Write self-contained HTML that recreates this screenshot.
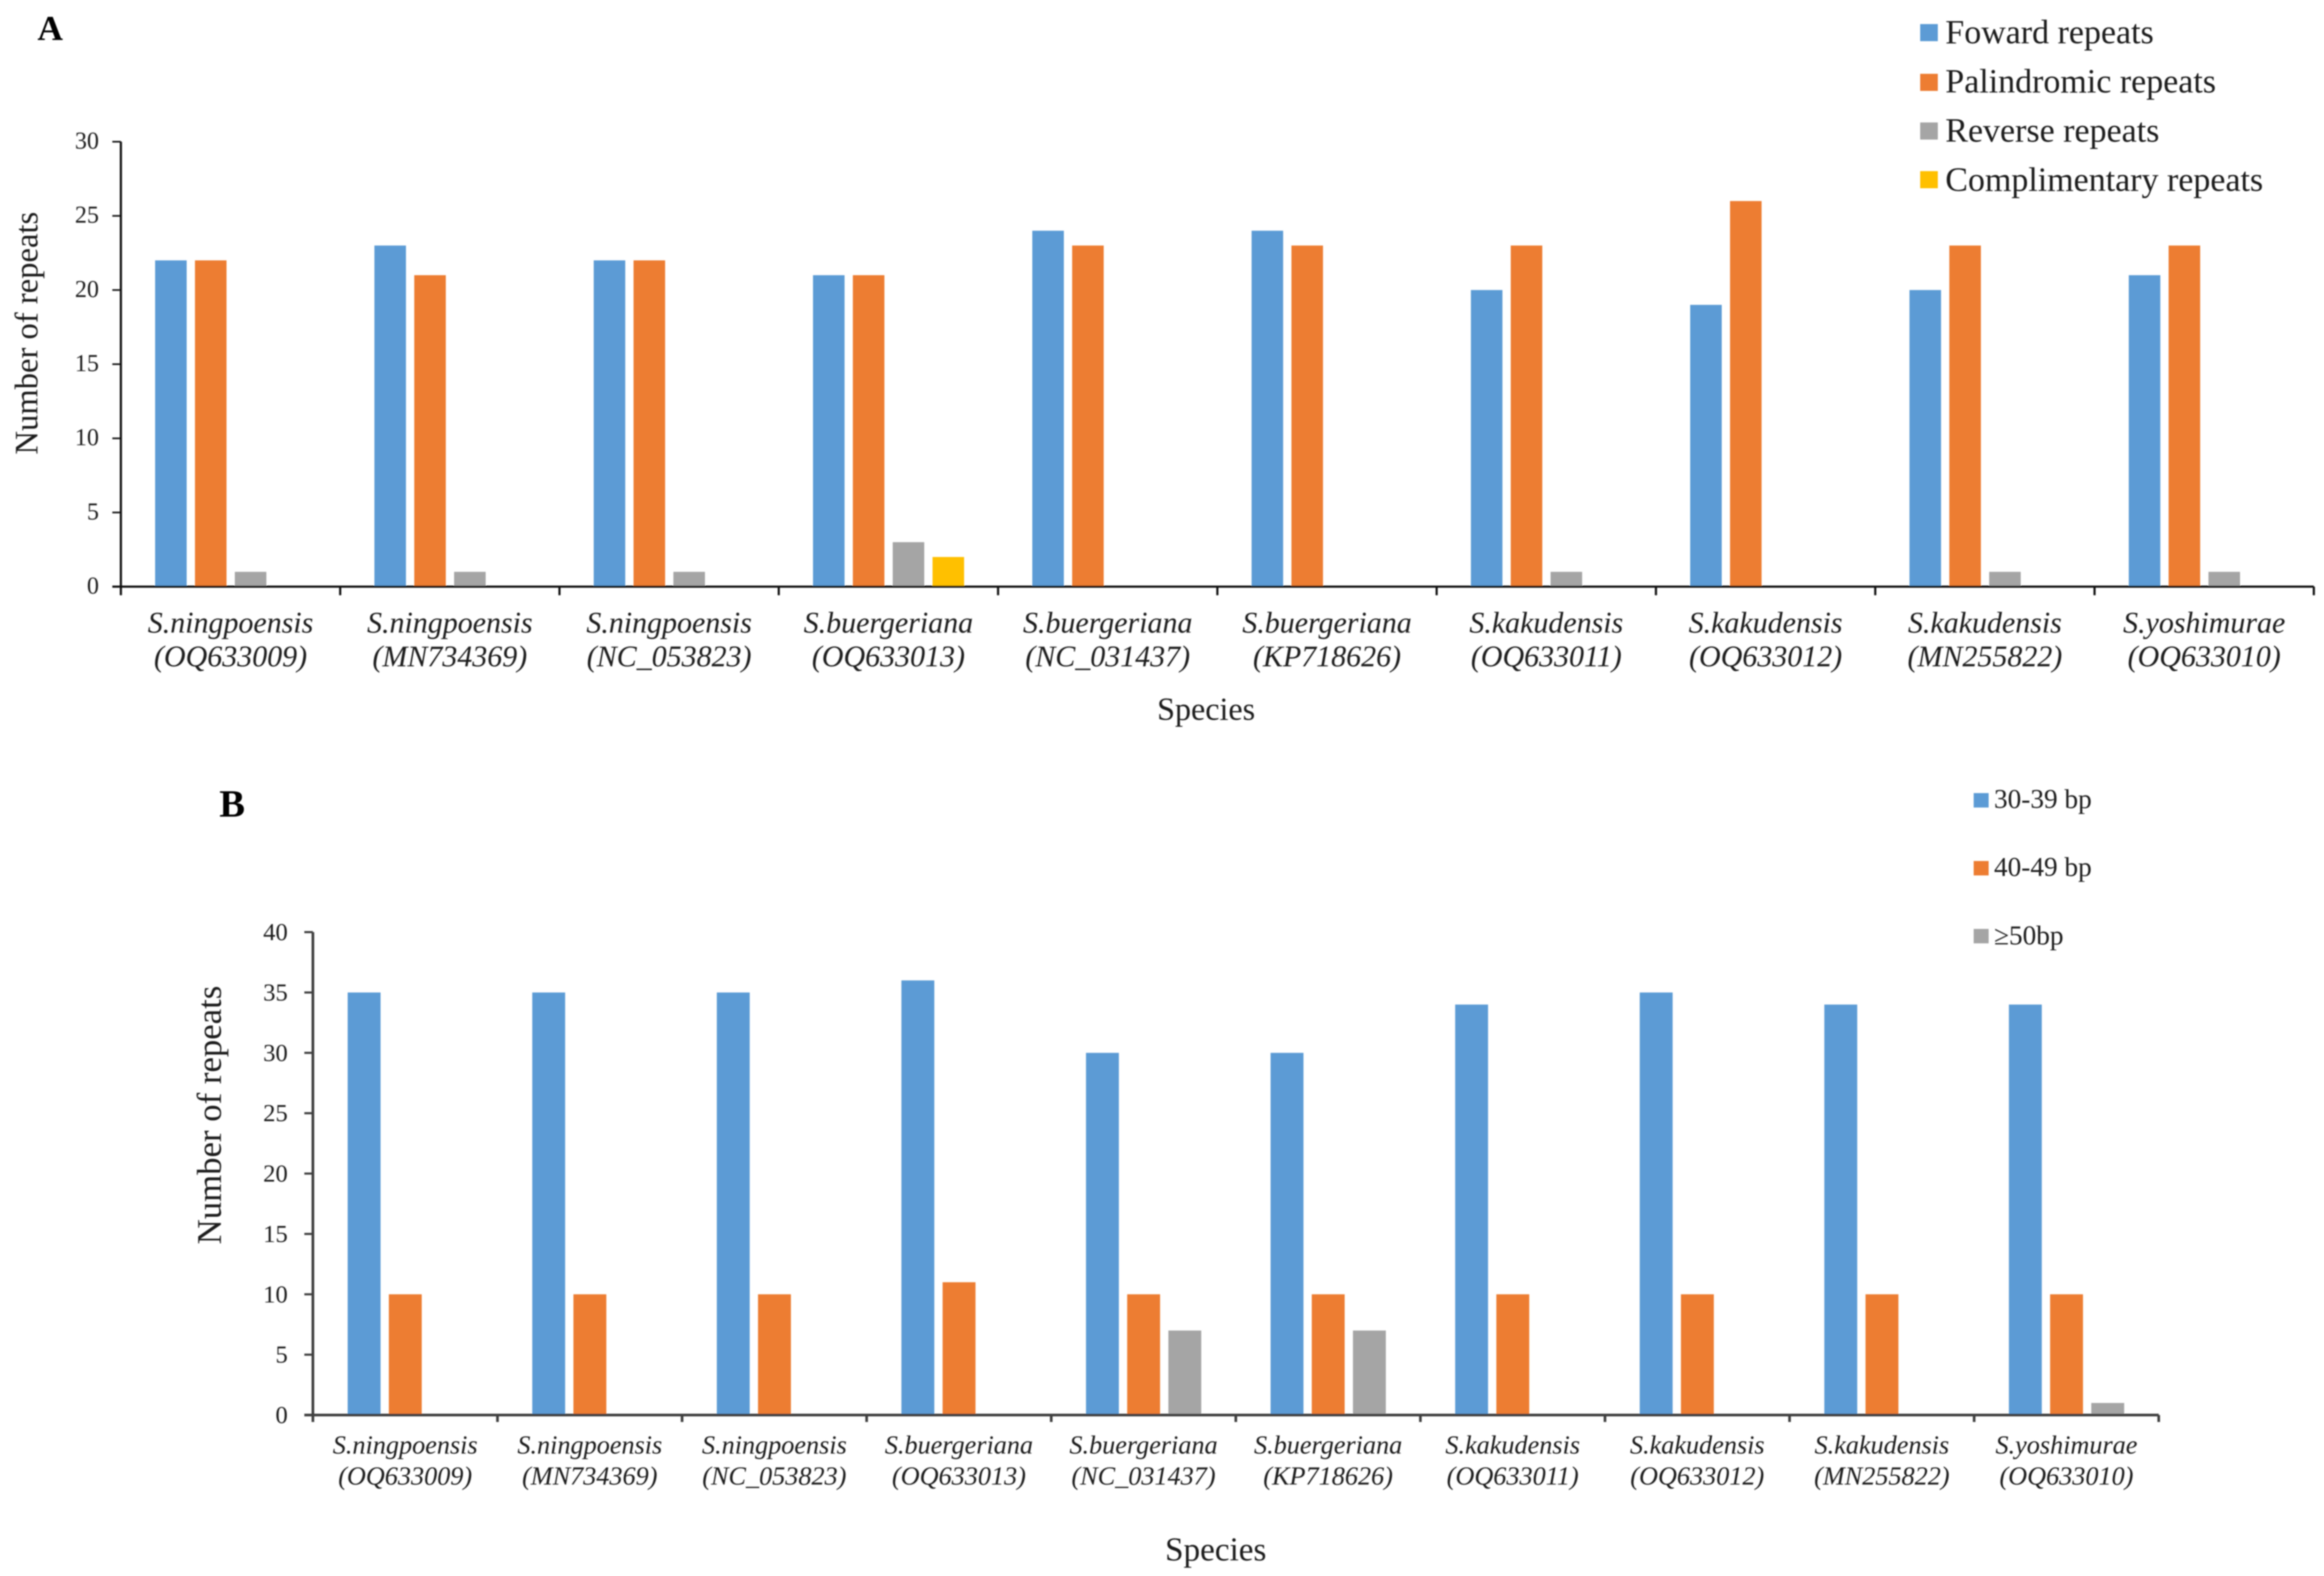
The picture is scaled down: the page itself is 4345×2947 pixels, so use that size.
<!DOCTYPE html>
<html lang="en">
<head>
<meta charset="utf-8">
<title>Repeat counts by species</title>
<style>
html,body{margin:0;padding:0;background:#fff;}
svg{display:block;}
text{font-family:"Liberation Serif",serif;fill:#1c1c1c;}
</style>
</head>
<body>
<svg id="figure" xmlns="http://www.w3.org/2000/svg" width="4345" height="2947" viewBox="0 0 4345 2947">
<defs><filter id="soft" x="-2%" y="-2%" width="104%" height="104%"><feGaussianBlur stdDeviation="1.2"/></filter></defs>
<rect width="4345" height="2947" fill="#fff"/>
<g id="root" filter="url(#soft)"></g>
</svg>
<script>
const speciesNames = ["S.ningpoensis","S.ningpoensis","S.ningpoensis","S.buergeriana","S.buergeriana","S.buergeriana","S.kakudensis","S.kakudensis","S.kakudensis","S.yoshimurae"];
const accessions = ["(OQ633009)","(MN734369)","(NC_053823)","(OQ633013)","(NC_031437)","(KP718626)","(OQ633011)","(OQ633012)","(MN255822)","(OQ633010)"];

const forwardRepeats = [22,23,22,21,24,24,20,19,20,21];
const palindromicRepeats = [22,21,22,21,23,23,23,26,23,23];
const reverseRepeats = [1,1,1,3,0,0,1,0,1,1];
const complimentaryRepeats = [0,0,0,2,0,0,0,0,0,0];
const ticksA = [0,5,10,15,20,25,30];

const len30to39 = [35,35,35,36,30,30,34,35,34,34];
const len40to49 = [10,10,10,11,10,10,10,10,10,10];
const len50plus = [0,0,0,0,7,7,0,0,0,1];
const ticksB = [0,5,10,15,20,25,30,35,40];

const NS = "http://www.w3.org/2000/svg";
const root = document.getElementById("root");
const BLUE = "#5B9BD5", ORANGE = "#ED7D31", GRAY = "#A5A5A5", GOLD = "#FFC000";

function shape(tag, attrs, parent) {
  const el = document.createElementNS(NS, tag);
  for (const k in attrs) el.setAttribute(k, attrs[k]);
  (parent || root).appendChild(el);
  return el;
}
function label(str, attrs, parent) {
  const el = shape("text", attrs, parent);
  el.textContent = str;
  return el;
}

function drawChart(cfg) {
  const chart = shape("g", {});
  
  

  const yOf = v => cfg.y0 - (v / cfg.max) * (cfg.y0 - cfg.yTop);
  const bandW = (cfg.xEnd - cfg.x0) / cfg.categories.length;
  const bandX = i => cfg.x0 + i * bandW;

  // bars
  cfg.series.forEach((values, s) => {
    values.forEach((v, i) => {
      const bar = shape("rect", {
        x: bandX(i) + cfg.barStart + s * cfg.barStep,
        y: yOf(v),
        width: cfg.barW,
        height: cfg.y0 - yOf(v),
        fill: cfg.colors[s]
      }, chart);
      
      
    });
  });

  // y axis
  const yAxis = shape("line", {x1: cfg.x0, x2: cfg.x0, y1: cfg.yTop, y2: cfg.y0 + cfg.tickDown, stroke: cfg.axis, "stroke-width": cfg.axisW}, chart);
  
  

  // y ticks and labels
  cfg.ticks.forEach(t => {
    const tick = shape("line", {x1: cfg.x0 - cfg.tickLeft, x2: cfg.x0, y1: yOf(t), y2: yOf(t), stroke: cfg.axis, "stroke-width": cfg.tickW}, chart);
    
    
    const tl = label(String(t), {x: cfg.tickLabelX, y: yOf(t) + cfg.tickBase, "text-anchor": "end", "font-size": cfg.tickFont}, chart);
    
    
  });

  // x axis
  const xAxis = shape("line", {x1: cfg.x0 - cfg.tickLeft, x2: cfg.xEnd, y1: cfg.y0, y2: cfg.y0, stroke: cfg.axis, "stroke-width": cfg.axisW}, chart);
  
  

  // x ticks and labels
  for (let i = 0; i <= cfg.categories.length; i++) {
    const xt = shape("line", {x1: bandX(i), x2: bandX(i), y1: cfg.y0, y2: cfg.y0 + cfg.tickDown, stroke: cfg.axis, "stroke-width": cfg.axisW}, chart);
    
    
  }
  cfg.categories.forEach((c, i) => {
    const cx = bandX(i) + bandW / 2;
    const l1 = label(c, {x: cx, y: cfg.catBase1, "text-anchor": "middle", "font-size": cfg.catFont, "font-style": "italic"}, chart);
    
    
    const l2 = label(cfg.accessions[i], {x: cx, y: cfg.catBase2, "text-anchor": "middle", "font-size": cfg.catFont, "font-style": "italic"}, chart);
    
    
  });

  // axis titles
  const yt = label("Number of repeats", {
    transform: "translate(" + cfg.yTitleX + " " + cfg.yTitleY + ") rotate(-90)",
    "text-anchor": "middle", "font-size": cfg.yTitleFont
  }, chart);
  
  
  const xtitle = label("Species", {x: cfg.xTitleX, y: cfg.xTitleY, "text-anchor": "middle", "font-size": cfg.xTitleFont}, chart);
  
  

  // panel letter
  const p = label(cfg.panel, {x: cfg.panelX, y: cfg.panelY, "font-size": cfg.panelFont, "font-weight": "bold", style: "fill:#000"}, chart);
  
  

  // legend
  cfg.legendNames.forEach((n, i) => {
    const g = shape("g", {}, chart);
    
    
    const sw = shape("rect", {x: cfg.legX, y: cfg.legSwatchY[i], width: cfg.legW, height: cfg.legH, fill: cfg.colors[i]}, g);
    
    
    const t = label(n, {x: cfg.legTextX, y: cfg.legBase[i], "font-size": cfg.legFont}, g);
    
    
  });
}

drawChart({
  name: "chart-a", panel: "A", panelX: 70, panelY: 75, panelFont: 66,
  categories: speciesNames, accessions: accessions,
  series: [forwardRepeats, palindromicRepeats, reverseRepeats, complimentaryRepeats],
  colors: [BLUE, ORANGE, GRAY, GOLD],
  max: 30, ticks: ticksA,
  x0: 226, xEnd: 4326, y0: 1097, yTop: 265,
  barStart: 64, barStep: 74.5, barW: 59,
  axis: "#111", axisW: 4, tickW: 3, tickLeft: 16, tickDown: 16,
  tickLabelX: 185, tickBase: 13, tickFont: 45,
  catBase1: 1183, catBase2: 1246, catFont: 56,
  yTitleX: 70, yTitleY: 623, yTitleFont: 61,
  xTitleX: 2255, xTitleY: 1346, xTitleFont: 60,
  legendNames: ["Foward repeats", "Palindromic repeats", "Reverse repeats", "Complimentary repeats"],
  legX: 3590, legW: 33, legH: 32, legSwatchY: [45, 138, 229, 320], legTextX: 3637, legBase: [81, 173, 265, 357], legFont: 63.5
});

drawChart({
  name: "chart-b", panel: "B", panelX: 410, panelY: 1527, panelFont: 72,
  categories: speciesNames, accessions: accessions,
  series: [len30to39, len40to49, len50plus],
  colors: [BLUE, ORANGE, GRAY],
  max: 40, ticks: ticksB,
  x0: 585, xEnd: 4036, y0: 2646, yTop: 1743,
  barStart: 65, barStep: 77, barW: 61.5,
  axis: "#404040", axisW: 5, tickW: 4, tickLeft: 16, tickDown: 13,
  tickLabelX: 538, tickBase: 15, tickFont: 46,
  catBase1: 2718, catBase2: 2776, catFont: 49,
  yTitleX: 413, yTitleY: 2085, yTitleFont: 65,
  xTitleX: 2273, xTitleY: 2918, xTitleFont: 62,
  legendNames: ["30-39 bp", "40-49 bp", "\u226550bp"],
  legX: 3690, legW: 28, legH: 27, legSwatchY: [1483, 1610, 1737], legTextX: 3728, legBase: [1511, 1638, 1766], legFont: 51
});
</script>
</body>
</html>
